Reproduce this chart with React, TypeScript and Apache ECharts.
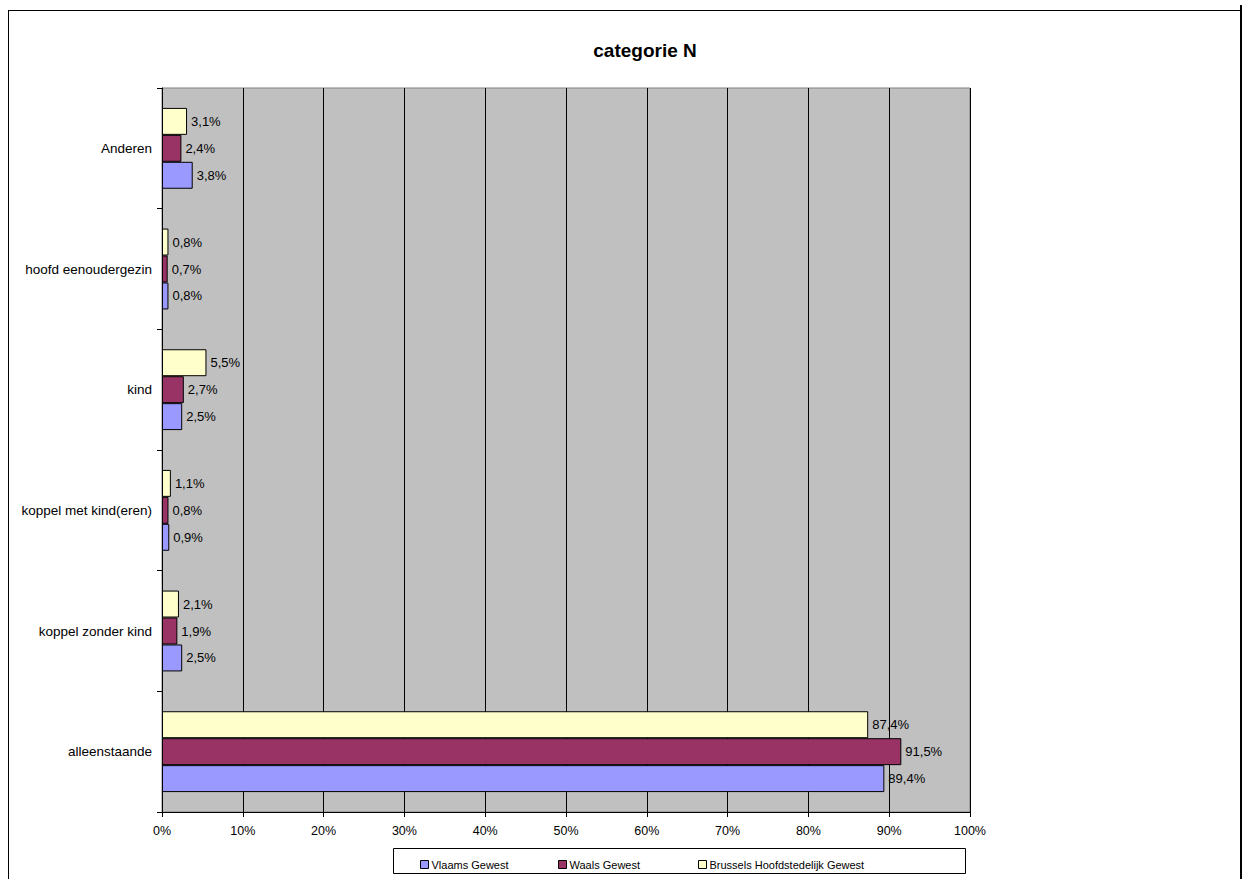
import React, { useEffect, useRef } from "react";
import * as echarts from "echarts";

const categories = [
  "alleenstaande",
  "koppel zonder kind",
  "koppel met kind(eren)",
  "kind",
  "hoofd eenoudergezin",
  "Anderen",
];
const vlaams = [89.4, 2.5, 0.9, 2.5, 0.8, 3.8];
const waals = [91.5, 1.9, 0.8, 2.7, 0.7, 2.4];
const brussels = [87.4, 2.1, 1.1, 5.5, 0.8, 3.1];
const seriesNames = ["Vlaams Gewest", "Waals Gewest", "Brussels Hoofdstedelijk Gewest"];
const colors = ["#9999FF", "#993366", "#FFFFCC"];

const fmt = (v: number) => v.toFixed(1).replace(".", ",") + "%";

export default function App() {
  const ref = useRef<HTMLDivElement>(null);
  useEffect(() => {
    if (!ref.current) return;
    const chart = echarts.init(ref.current, null, { renderer: "svg" });
    const font = "Arial, 'Liberation Sans', sans-serif";
    const data = [vlaams, waals, brussels];
    const legendLefts = [415, 553, 693];
    // ECharts stacks horizontal bar series top-to-bottom, so draw in reverse
    const order = [2, 1, 0];
    chart.setOption({
      animation: false,
      textStyle: { fontFamily: font },
      title: {
        text: "categorie N",
        left: 640,
        textAlign: "center",
        top: 36,
        textStyle: { fontFamily: font, fontSize: 19, fontWeight: "bold", color: "#000" },
      },
      legend: seriesNames.map((n, i) => ({
        data: [n],
        left: legendLefts[i],
        top: 854,
        itemWidth: 8,
        itemHeight: 8,
        itemGap: 0,
        icon: "rect",
        textStyle: { fontFamily: font, fontSize: 11, color: "#000", padding: [0, 0, 0, -2] },
        itemStyle: { borderColor: "#000", borderWidth: 1 },
      })),
      grid: {
        left: 162,
        right: 279,
        top: 88,
        bottom: 67,
        show: true,
        backgroundColor: "#C0C0C0",
        borderColor: "#808080",
        borderWidth: 1,
      },
      xAxis: {
        type: "value",
        min: 0,
        max: 100,
        interval: 10,
        axisLine: { show: true, lineStyle: { color: "#000", width: 1 } },
        axisTick: { show: true, length: 5, lineStyle: { color: "#000" } },
        splitLine: { show: true, lineStyle: { color: "#000", width: 1 } },
        axisLabel: {
          formatter: (v: number) => v + "%",
          fontFamily: font,
          fontSize: 12.5,
          color: "#000",
          margin: 12,
        },
      },
      yAxis: {
        type: "category",
        data: categories,
        axisLine: { show: true, lineStyle: { color: "#000", width: 1 } },
        axisTick: { show: true, length: 5, lineStyle: { color: "#000" } },
        axisLabel: { fontFamily: font, fontSize: 13.5, color: "#000", margin: 10 },
      },
      series: order.map((i) => ({
        name: seriesNames[i],
        type: "bar",
        data: data[i],
        barGap: "0%",
        barCategoryGap: "33%",
        itemStyle: { color: colors[i], borderColor: "#000", borderWidth: 1 },
        label: {
          show: true,
          position: "right",
          distance: 4,
          formatter: (p: any) => fmt(p.value),
          fontFamily: font,
          fontSize: 13,
          color: "#000",
        },
      })),
      graphic: [
        { type: "line", shape: { x1: 8.5, y1: 10, x2: 8.5, y2: 879 }, style: { stroke: "#000", lineWidth: 1 } },
        { type: "line", shape: { x1: 8, y1: 10.5, x2: 1242, y2: 10.5 }, style: { stroke: "#000", lineWidth: 1 } },
        { type: "line", shape: { x1: 1241, y1: 5, x2: 1241, y2: 879 }, style: { stroke: "#000", lineWidth: 2 } },
        {
          type: "rect",
          shape: { x: 393.5, y: 848.5, width: 572, height: 25 },
          style: { fill: "none", stroke: "#000", lineWidth: 1 },
          z: -1,
        },
      ],
    });
    return () => chart.dispose();
  }, []);
  return (
    <div
      ref={ref}
      style={{ position: "absolute", left: 0, top: 0, width: 1249, height: 879, background: "#fff" }}
    />
  );
}
